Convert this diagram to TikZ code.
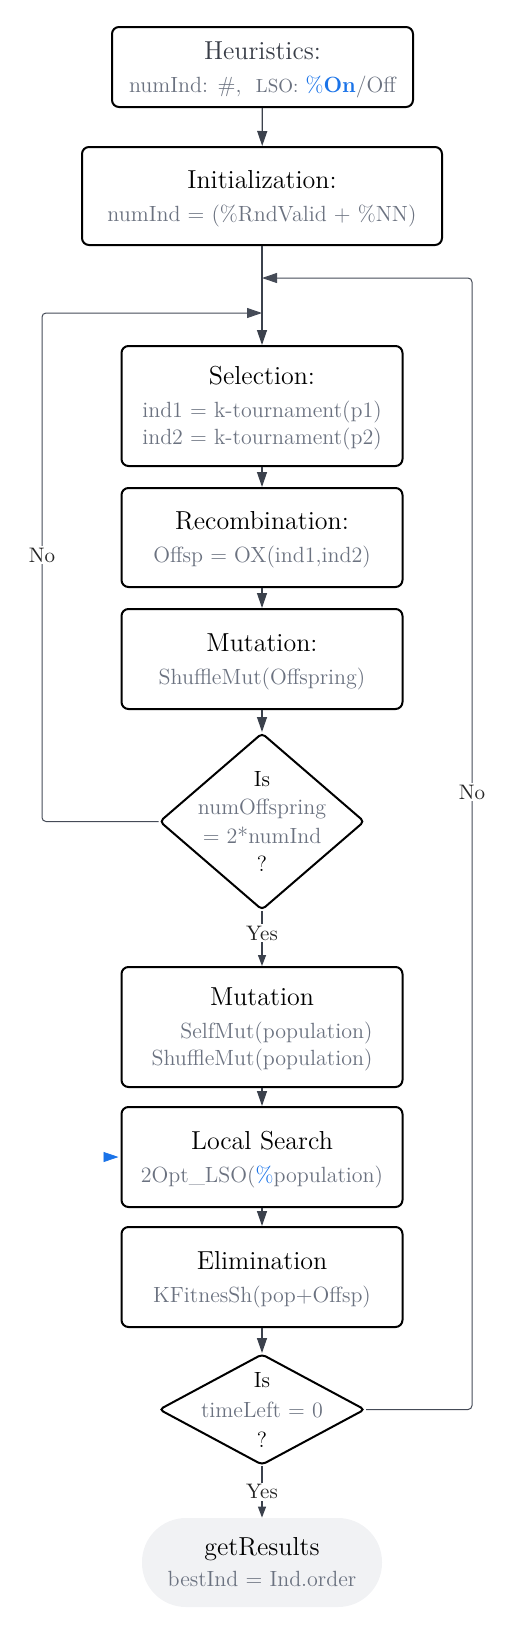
\documentclass[tikz,border=0pt]{standalone}
\usepackage{tikz}
\usetikzlibrary{arrows.meta,shapes.geometric}
\definecolor{subgray}{HTML}{6B7280}
\definecolor{lsoblue}{HTML}{1A73E8}
\definecolor{linkgray}{HTML}{3B414C}
\definecolor{loopgray}{HTML}{454B57}
\definecolor{headgray}{HTML}{383D47}
\definecolor{resfill}{HTML}{F1F2F4}
\newcommand{\subtxt}[2][c]{{\fontsize{11}{13.5}\selectfont\color{subgray}\begin{tabular}[t]{@{}#1@{}}#2\end{tabular}}}
\newcommand{\onblue}[1]{\textcolor{lsoblue}{#1}}
\newcommand{\toprule}{\rule{0pt}{12.8pt}}

\begin{document}
\begin{tikzpicture}[x=0.5pt,y=-0.5pt,>={Triangle[length=7.5pt,width=5pt]},
  box/.style={draw,line width=1pt,rounded corners=3.5pt,align=center,inner sep=0pt,
    minimum width=140.5pt,font=\fontsize{13}{16.5}\selectfont},
  decision/.style={draw,diamond,line width=1pt,rounded corners=2pt,inner sep=0pt},
  dtext/.style={align=center,inner sep=0pt,font=\fontsize{11}{14.3}\selectfont},
  link/.style={->,draw=linkgray,line width=0.65pt},
  yeslink/.style={-{Triangle[length=5.5pt,width=4pt]},draw=linkgray,line width=0.65pt},
  loopline/.style={->,draw=loopgray,line width=0.5pt,rounded corners=2pt},
  looplabel/.style={fill=white,inner sep=1pt,text=black!85,font=\fontsize{10.5}{12}\selectfont}]
  \useasboundingbox (0,0) rectangle (526,1634);
  % setup
  \node[box,minimum width=150.5pt,minimum height=40pt] (heur) at (262.5,67)
    {\toprule\textcolor{headgray}{Heuristics:}\\\subtxt{numInd: \#,\ \ {\fontsize{9.5}{11}\selectfont LSO:} \onblue{\%\textbf{On}}/Off}};
  \node[box,minimum width=180pt,minimum height=49pt] (init) at (262,196)
    {\toprule Initialization:\\\subtxt{numInd = (\%RndValid + \%NN)}};
  % offspring loop
  \node[box,minimum height=60pt] (sel) at (262,406)
    {\toprule Selection:\\\subtxt{ind1 = k-tournament(p1)\\ind2 = k-tournament(p2)}};
  \node[box,minimum height=49.5pt] (recomb) at (262,537.5)
    {\toprule Recombination:\\\subtxt{Offsp = OX(ind1,ind2)}};
  \node[box,minimum height=50pt] (mutoff) at (262,659)
    {\toprule Mutation:\\\subtxt{ShuffleMut(Offspring)}};
  \node[decision,minimum width=102.5pt,minimum height=88.5pt] (check1) at (262,821.5) {};
  \node[dtext] (check1txt) at (check1)
    {Is\\\textcolor{subgray}{numOffspring}\\\textcolor{subgray}{= 2*numInd}\\?};
  % population steps
  \node[box,minimum height=60pt] (mutpop) at (262,1027)
    {\toprule Mutation\\\subtxt[r]{SelfMut(population)\\ShuffleMut(population)}};
  \node[box,minimum height=50pt] (search) at (262,1157)
    {\toprule Local Search\\\subtxt{2Opt\_LSO(\onblue{\%}population)}};
  \node[box,minimum height=50pt] (elim) at (262,1277)
    {\toprule Elimination\\\subtxt{KFitnesSh(pop+Offsp)}};
  \node[decision,minimum width=103pt,minimum height=55.5pt] (check2) at (262,1409.5) {};
  \node[dtext,font=\fontsize{11}{15}\selectfont] (check2txt) at (check2)
    {Is\\\textcolor{subgray}{timeLeft = 0}\\?};
  \node[fill=resfill,rounded corners=22pt,minimum width=120pt,minimum height=44.5pt,
    inner sep=0pt,align=center,font=\fontsize{13}{15.5}\selectfont] (results) at (262,1562.5)
    {\toprule getResults\\\subtxt{bestInd = Ind.order}};

  \coordinate (leftin) at (262,313);
  \coordinate (leftbend) at (42,313);
  \coordinate (rightin) at (262,278);
  \coordinate (rightbend) at (472,278);
  \coordinate (lsotail) at (105,1157);

  \draw[link] (heur) -- (init);
  \draw[link] (init) -- (sel);
  \draw[link] (sel) -- (recomb);
  \draw[link] (recomb) -- (mutoff);
  \draw[link] (mutoff) -- (check1);
  \draw[yeslink] (check1.south) -- node[looplabel,pos=0.4] (yes1) {Yes} (mutpop.north);
  \draw[link] (mutpop) -- (search);
  \draw[link] (search) -- (elim);
  \draw[link] (elim) -- (check2.north);
  \draw[yeslink] (check2.south) -- node[looplabel] (yes2) {Yes} (results.north);
  % back edges
  \draw[loopline] (check1.west) -| (leftbend) -- (leftin);
  \node[looplabel] (no1) at (42,555) {No};
  \draw[loopline] (check2.east) -| (rightbend) -- (rightin);
  \node[looplabel] (no2) at (472,792) {No};
  \draw[-{Triangle[length=7.5pt,width=5pt]},draw=lsoblue,line width=0.4pt]
    (lsotail) -- ([xshift=-1pt]search.west);
\end{tikzpicture}
\end{document}
